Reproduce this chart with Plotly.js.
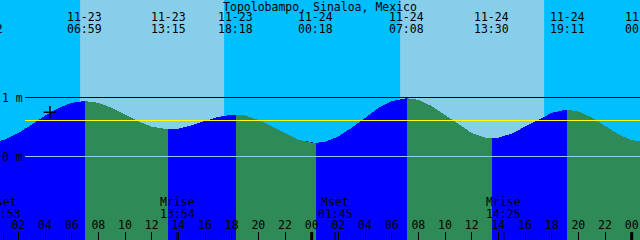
<!DOCTYPE html>
<html><head><meta charset="utf-8">
<script src="https://cdn.plot.ly/plotly-3.0.1.min.js"></script>
<style>
html,body{margin:0;padding:0;width:640px;height:240px;overflow:hidden;background:#00BFFF;}
#chart{position:absolute;left:-40px;top:0;width:720px;height:240px;}
#chart .js-fill{shape-rendering:crispEdges;}
</style></head><body><div id="chart"></div>
<script>
// ---------------- data ----------------
const stationName = 'Topolobampo, Sinaloa, Mexico';
// high / low tide events
const tideTimes = ['2024-11-22 23:32', '2024-11-23 06:59', '2024-11-23 13:15', '2024-11-23 18:18',
                   '2024-11-24 00:18', '2024-11-24 07:08', '2024-11-24 13:30', '2024-11-24 19:11', '2024-11-25 00:49'];
const tideHeights = [0.22, 0.94, 0.46, 0.71, 0.23, 0.99, 0.31, 0.79, 0.25];
const tideDateLabels = ['', '11-23', '11-23', '11-23', '11-24', '11-24', '11-24', '11-24', '11-25'];
const tideTimeLabels = ['23:32', '06:59', '13:15', '18:18', '00:18', '07:08', '13:30', '19:11', '00:49'];
// hourly water level, starting 2024-11-23 00:00
const hourlyStart = '2024-11-23 00:00';
const hourlyHeights = [0.227, 0.287, 0.398, 0.541, 0.691, 0.821, 0.909, 0.940, 0.909, 0.828,
                       0.714, 0.597, 0.506, 0.462, 0.473, 0.527, 0.602, 0.671, 0.708, 0.694,
                       0.621, 0.508, 0.384, 0.283, 0.233, 0.250, 0.340, 0.487, 0.659, 0.821,
                       0.939, 0.989, 0.959, 0.856, 0.703, 0.537, 0.399, 0.320, 0.319, 0.388,
                       0.505, 0.635, 0.740, 0.789, 0.762, 0.663, 0.520, 0.377, 0.278];
// sun
const sunriseTimes = ['2024-11-23 06:38', '2024-11-24 06:38'];
const sunsetTimes  = ['2024-11-23 17:26', '2024-11-24 17:26'];
// moon
const moonTimes  = ['2024-11-23 00:53', '2024-11-23 13:54', '2024-11-24 01:45', '2024-11-24 14:25'];
const moonEvents = ['Mset', 'Mrise', 'Mset', 'Mrise'];
const moonTimeLabels = ['00:53', '13:54', '01:45', '14:25'];
// midnights (thick ticks)
const midnightTimes = ['2024-11-23 00:00', '2024-11-24 00:00', '2024-11-25 00:00'];
// reference levels (m)
const levelValues = [1, 0.61, 0];
const yTickValues = [0, 1];
const yTickLabels = ['0 m', '1 m'];
// current time marker
const nowTime = '2024-11-23 04:22';
const nowHeight = 0.75;

// ---------------- build ----------------
const HOUR = 3600000;
const ms = s => new Date(s.replace(' ', 'T') + ':00Z').getTime();
const tT = tideTimes.map(ms);
const h0 = ms(hourlyStart);
let pts = hourlyHeights.map((v, i) => [h0 + i * HOUR, v]);
tideTimes.forEach((t, i) => pts.push([tT[i], tideHeights[i]]));
pts = pts.filter(p => p[0] >= tT[0] && p[0] <= tT[tT.length - 1]).sort((a, b) => a[0] - b[0]);

const Y0 = -1.4153, Y1 = 2.6525, YB = -2;
const xr0 = ms('2024-11-22 21:37') + 30000, xr1 = ms('2024-11-25 03:37') + 30000;
const RISE = '#0000FF', FALL = '#2E8B57', NIGHT = '#00BFFF', DAY = '#87CEEB';

const traces = [];
// base (rising colour) water polygon
traces.push({
  x: pts.map(p => p[0]).concat([tT[tT.length - 1], tT[0]]),
  y: pts.map(p => p[1]).concat([YB, YB]),
  mode: 'lines', fill: 'toself', fillcolor: RISE, line: {width: 0}, hoverinfo: 'skip'
});
// falling segments
for (let i = 0; i < tT.length - 1; i++) {
  if (tideHeights[i + 1] < tideHeights[i]) {
    const seg = pts.filter(p => p[0] >= tT[i] && p[0] <= tT[i + 1]);
    traces.push({
      x: seg.map(p => p[0]).concat([tT[i + 1], tT[i]]),
      y: seg.map(p => p[1]).concat([YB, YB]),
      mode: 'lines', fill: 'toself', fillcolor: FALL, line: {width: 0}, hoverinfo: 'skip'
    });
  }
}
// current time marker
traces.push({x: [ms(nowTime)], y: [nowHeight], mode: 'markers',
  marker: {symbol: 'cross-thin', size: 9, line: {width: 1.5, color: '#000'}}, hoverinfo: 'skip'});

const shapes = [];
sunriseTimes.forEach((s, i) => shapes.push({type: 'rect', xref: 'x', yref: 'paper',
  x0: ms(s), x1: ms(sunsetTimes[i]), y0: 0, y1: 1, fillcolor: DAY, line: {width: 0}, layer: 'below'}));
const levelColors = ['#000000', '#FFFF00', '#87CEEB'];
levelValues.forEach((v, i) => shapes.push({type: 'line', xref: 'paper', yref: 'y',
  x0: 65 / 720, x1: 1, y0: v, y1: v, line: {color: levelColors[i], width: 1}, layer: 'above'}));
midnightTimes.forEach(s => shapes.push({type: 'line', xref: 'x', yref: 'paper',
  x0: ms(s), x1: ms(s), y0: 0, y1: 8 / 240, line: {color: '#000', width: 3}}));
moonTimes.forEach(s => shapes.push({type: 'line', xref: 'x', yref: 'paper',
  x0: ms(s), x1: ms(s), y0: 0, y1: 8 / 240, line: {color: '#000', width: 1}}));

const F = {family: 'DejaVu Sans Mono', size: 11.5, color: '#000'};
const annotations = [];
const ann = (x, yPx, text) => annotations.push({x: x, xref: 'x', y: 1 - yPx / 240, yref: 'paper',
  text: text, showarrow: false, xanchor: 'center', yanchor: 'middle', font: F, borderpad: 0});
tideTimes.forEach((t, i) => {
  if (tideDateLabels[i]) ann(tT[i], 17, tideDateLabels[i]);
  ann(tT[i], 29, tideTimeLabels[i]);
});
moonTimes.forEach((t, i) => { ann(ms(t), 201.5, moonEvents[i]); ann(ms(t), 214, moonTimeLabels[i]); });
// y-axis labels (inside the plot, at the left edge of the picture)
yTickValues.forEach((v, i) => annotations.push({x: 41 / 720, xref: 'paper', y: v, yref: 'y',
  text: yTickLabels[i], showarrow: false, xanchor: 'left', yanchor: 'middle', font: F, borderpad: 0}));

const layout = {
  width: 720, height: 240, margin: {l: 0, r: 0, t: 0, b: 0, pad: 0},
  paper_bgcolor: NIGHT, plot_bgcolor: NIGHT, showlegend: false, font: F,
  title: {text: stationName, x: 0.5, xanchor: 'center', y: 1 - 6.5 / 240, yanchor: 'middle', font: F},
  xaxis: {type: 'date', range: [xr0, xr1], tick0: ms('2024-11-23 00:00'), dtick: 2 * HOUR, tickformat: '%H',
    ticks: 'inside', ticklen: 8, tickwidth: 1, tickcolor: '#000', ticklabelposition: 'inside',
    showgrid: false, zeroline: false, showline: false, fixedrange: true, tickfont: F},
  yaxis: {range: [Y0, Y1], showticklabels: false, ticks: '',
    showgrid: false, zeroline: false, showline: false, fixedrange: true},
  shapes: shapes, annotations: annotations, hovermode: false
};
Plotly.newPlot('chart', traces, layout, {staticPlot: true, displayModeBar: false});
</script></body></html>
